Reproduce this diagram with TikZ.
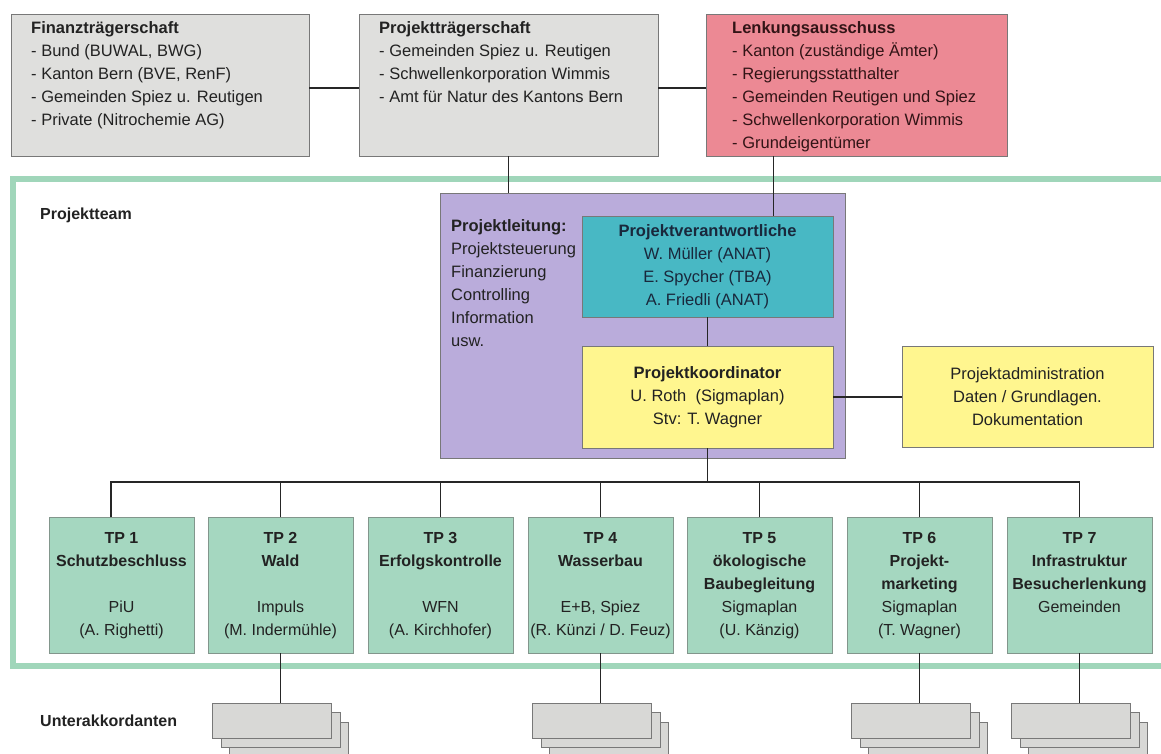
\documentclass[tikz,border=0pt]{standalone}
\usepackage{fontspec}
\setmainfont{Liberation Sans}
\definecolor{grayfill}{RGB}{223,223,221}
\definecolor{pinkfill}{RGB}{236,137,148}
\definecolor{purplefill}{RGB}{186,172,219}
\definecolor{tealfill}{RGB}{72,184,196}
\definecolor{yellowfill}{RGB}{255,246,143}
\definecolor{tpfill}{RGB}{165,215,192}
\definecolor{framegreen}{RGB}{160,214,186}
\definecolor{stackfill}{RGB}{216,216,214}
\definecolor{txt}{RGB}{34,34,34}
\definecolor{boxline}{RGB}{120,120,120}
\begin{document}
\begin{tikzpicture}[x=1pt,y=-1pt,
  font=\fontsize{16.5}{23}\selectfont,
  obox/.style={draw=boxline, line width=0.8pt, inner sep=0pt, outer sep=0pt, text=txt},
  topbox/.style={obox, anchor=north west, minimum height=142pt},
  toptext/.style={anchor=north west, align=left, inner sep=0pt, text=txt},
  cbox/.style={obox, align=center, minimum width=251pt},
  tpbox/.style={obox, fill=tpfill, draw={rgb,255:red,130;green,150;blue,140}, align=center,
    minimum width=145pt, minimum height=136pt, font=\fontsize{16}{23}\selectfont},
  stackbox/.style={draw=boxline, line width=0.7pt, fill=stackfill, minimum width=119pt, minimum height=35pt, inner sep=0pt},
  conn/.style={line width=1.3pt, draw=black!85}
]
\useasboundingbox (0,0) rectangle (1161,753);
\fill[white] (0,0) rectangle (1161,753);

% green project-team frame
\draw[framegreen, line width=6pt] (1161,178.5) -- (12.5,178.5) -- (12.5,666) -- (1161,666);
\node[anchor=base west, inner sep=0pt, text=txt, font=\fontsize{16}{23}\selectfont\bfseries] (pteam) at (40,219) {Projektteam};
\node[anchor=base west, inner sep=0pt, text=txt, font=\fontsize{16}{23}\selectfont\bfseries] (uak) at (40,726) {Unterakkordanten};

% top boxes
\node[topbox, fill=grayfill, minimum width=298pt] (fin) at (11,14) {};
\node[toptext] (fint) at (31,17.2) {\strut\textbf{Finanzträgerschaft}\\- Bund (BUWAL, BWG)\\- Kanton Bern (BVE, RenF)\\- Gemeinden Spiez u. Reutigen\\- Private (Nitrochemie AG)};

\node[topbox, fill=grayfill, minimum width=299pt] (proj) at (359,14) {};
\node[toptext] (projt) at (379,17.2) {\strut\textbf{Projektträgerschaft}\\- Gemeinden Spiez u. Reutigen\\- Schwellenkorporation Wimmis\\- Amt für Natur des Kantons Bern};

\node[topbox, fill=pinkfill, minimum width=301pt] (lenk) at (706,14) {};
\node[toptext, text={rgb,255:red,50;green,20;blue,22}] (lenkt) at (732,17.2) {\strut\textbf{Lenkungsausschuss}\\- Kanton (zuständige Ämter)\\- Regierungsstatthalter\\- Gemeinden Reutigen und Spiez\\- Schwellenkorporation Wimmis\\- Grundeigentümer};

% project management
\node[obox, fill=purplefill, anchor=north west, minimum width=405pt, minimum height=265pt] (pl) at (440,193) {};
\node[toptext] (plt) at (451,215.6) {\strut\textbf{Projektleitung:}\\Projektsteuerung\\Finanzierung\\Controlling\\Information\\usw.};

\node[cbox, fill=tealfill, minimum height=101pt, text={rgb,255:red,25;green,40;blue,60}] (pv) at (707.5,266.5)
  {\textbf{Projektverantwortliche}\\W. Müller (ANAT)\\E. Spycher (TBA)\\A. Friedli (ANAT)};
\node[cbox, fill=yellowfill, minimum height=102pt] (koord) at (707.5,397)
  {\textbf{Projektkoordinator}\\U. Roth~~(Sigmaplan)\\Stv: T. Wagner};
\node[cbox, fill=yellowfill, minimum height=101pt] (admin) at (1027.5,397)
  {Projektadministration\\Daten / Grundlagen.\\Dokumentation};

% sub-projects
\node[tpbox] (tp1) at (121.5,585) {\strut\textbf{TP 1}\\\textbf{Schutzbeschluss}\\\strut\\PiU\\(A. Righetti)\strut};
\node[tpbox] (tp2) at (280.5,585) {\strut\textbf{TP 2}\\\textbf{Wald}\\\strut\\Impuls\\(M. Indermühle)\strut};
\node[tpbox] (tp3) at (440.5,585) {\strut\textbf{TP 3}\\\textbf{Erfolgskontrolle}\\\strut\\WFN\\(A. Kirchhofer)\strut};
\node[tpbox] (tp4) at (600.5,585) {\strut\textbf{TP 4}\\\textbf{Wasserbau}\\\strut\\E+B, Spiez\\(R. Künzi / D. Feuz)\strut};
\node[tpbox] (tp5) at (759.5,585) {\strut\textbf{TP 5}\\\textbf{ökologische}\\\textbf{Baubegleitung}\\Sigmaplan\\(U. Känzig)\strut};
\node[tpbox] (tp6) at (919.5,585) {\strut\textbf{TP 6}\\\textbf{Projekt-}\\\textbf{marketing}\\Sigmaplan\\(T. Wagner)\strut};
\node[tpbox] (tp7) at (1079.5,585) {\strut\textbf{TP 7}\\\textbf{Infrastruktur}\\\textbf{Besucherlenkung}\\Gemeinden\\\strut};

% sub-contractor stacks
\foreach \t/\x in {2/280.5, 4/600.5, 6/919.5, 7/1079.5}{
  \node[stackbox] (s\t c) at (\x+8.5,739.5) {};
  \node[stackbox] (s\t b) at (\x,730) {};
  \node[stackbox] (s\t) at (\x-8.5,720.5) {};
}

% connectors
\coordinate (bus) at (707.5,482);
\draw[conn] ([yshift=-3pt]fin.east) -- ([yshift=-3pt]proj.west);
\draw[conn] ([yshift=-3pt]proj.east) -- ([yshift=-3pt]lenk.west);
\draw[conn] (proj.south) -- (proj.south |- pl.north);
\draw[conn] ([xshift=-83pt]lenk.south) -- ([xshift=-83pt]lenk.south |- pv.north);
\draw[conn] (pv.south) -- (koord.north);
\draw[conn] (koord.east) -- (admin.west);
\draw[conn] (koord.south) -- (bus);
\draw[conn] ([xshift=-10.5pt]tp1.north) -- ([xshift=-10.5pt]tp1.north |- bus) -- (tp7.north |- bus) -- (tp7.north);
\foreach \t in {2,3,4,5,6}{
  \draw[conn] (tp\t.north) -- (tp\t.north |- bus);
}
\foreach \t in {2,4,6,7}{
  \draw[conn] (tp\t.south) -- (tp\t.south |- s\t.north);
}
\end{tikzpicture}
\end{document}
